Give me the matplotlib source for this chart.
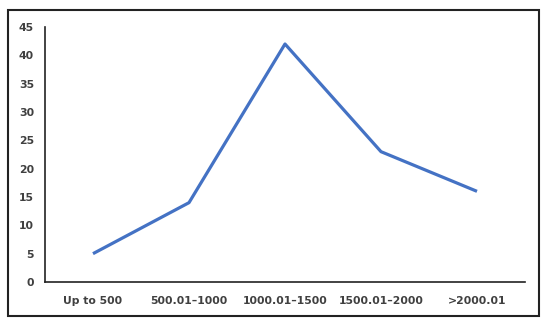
import matplotlib
matplotlib.use("Agg")
import matplotlib.pyplot as plt
from matplotlib.patches import Rectangle

categories = ["Up to 500", "500.01\u20131000", "1000.01\u20131500", "1500.01\u20132000", ">2000.01"]
values = [5, 14, 42, 23, 16]
yticks = [0, 5, 10, 15, 20, 25, 30, 35, 40, 45]

fig = plt.figure(figsize=(5.5, 3.26), dpi=100)
ax = fig.add_axes([45/550, 1-282/326, 480/550, 255/326])
x = list(range(len(categories)))
ax.plot(x, values, color="#4472C4", linewidth=2.3, solid_capstyle="butt")
ax.set_xlim(-0.5, len(categories) - 0.5)
ax.set_ylim(0, 45)
ax.set_yticks(yticks)
ax.set_xticks(x)
ax.set_xticklabels(categories)
for s in ["top", "right"]:
    ax.spines[s].set_visible(False)
for s in ["left", "bottom"]:
    ax.spines[s].set_color("#222222")
    ax.spines[s].set_linewidth(1.2)
ax.tick_params(axis="both", length=0, labelsize=7.8, labelcolor="#404040")
ax.tick_params(axis="y", pad=8)
ax.tick_params(axis="x", pad=10)
for lab in ax.get_xticklabels() + ax.get_yticklabels():
    lab.set_fontweight("bold")

fig.patches.append(Rectangle((8/550, 1-316/326), 531/550, 306/326, transform=fig.transFigure,
                             fill=False, edgecolor="#222222", linewidth=1.5))
fig.savefig("out.png", dpi=100)
